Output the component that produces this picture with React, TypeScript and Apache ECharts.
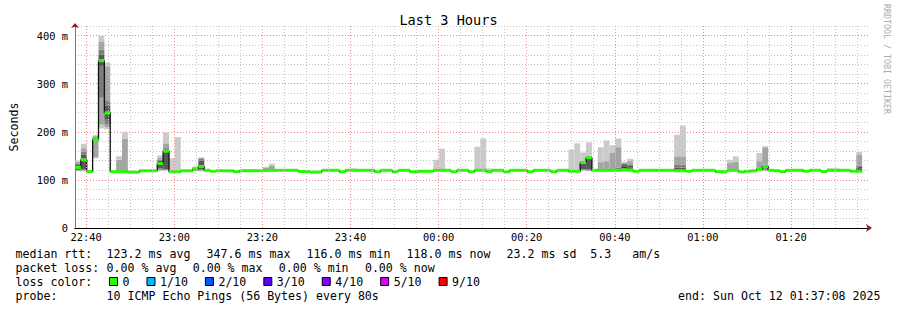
import React, { useEffect, useRef } from "react";
import * as echarts from "echarts";

const FONT = '"DejaVu Sans Mono", monospace';
const titleText = "Last 3 Hours";
const yAxisName = "Seconds";
const watermark = "RRDTOOL / TOBI OETIKER";
// clock time at the left edge of the plot; the first 80 s step starts there
const axisStartClock = [22, 37, 28];
const spanSeconds = 3 * 3600;
const stepSeconds = 80;
const yMax = 420;
const yMinorStep = 20;
const yMajorStep = 100;
const xMinorMinutes = 5;
const xMajorMinutes = 20;

// median RTT (ms) per 80 s step
const medians = [
  126, 142, 117.5, 184, 348, 239, 117, 117, 117, 116,
  116, 119, 119, 119, 134, 160, 117, 117, 119, 119,
  122, 128, 120, 118, 119, 119, 119, 117, 119, 119,
  119, 119, 120, 120, 120, 120, 120, 120, 117.5, 117.5,
  116, 116, 120, 120, 120, 117, 120, 120, 120, 120,
  120, 117, 120, 120, 117, 120, 120, 117, 118, 118,
  118, 120, 120, 120, 117, 120, 120, 117, 120, 120,
  117, 120, 120, 117, 120, 120, 120, 117, 120, 120,
  120, 117, 120, 120, 118, 118, 136, 146, 120, 120,
  120, 120, 120, 121, 121, 118, 120, 120, 120, 120,
  120, 120, 119, 119, 118, 120, 120, 120, 120, 117,
  117, 120, 120, 116.5, 118, 119, 122, 128, 120, 119,
  117, 120, 120, 120, 118, 120, 120, 117.5, 120, 120,
  120, 120, 118, 118,
];

// sorted 10 pings (ms) for the steps whose smoke is visible: [step index, pings]
const smokeSamples: [number, number[]][] = [
  [0, [118, 119, 120, 121, 123, 129, 131, 134, 138, 140]],
  [1, [118, 119, 120, 122, 139, 145, 152, 159, 166, 175]],
  [3, [145, 147, 180, 181, 182, 186, 188, 190, 192, 194]],
  [4, [207, 215, 271, 337, 346, 350, 360, 371, 388, 399]],
  [5, [205, 210, 215, 225, 236, 242, 255, 264, 336, 344]],
  [7, [116, 116, 117, 117, 117, 117, 118, 118, 142, 149]],
  [8, [116, 116, 117, 117, 117, 117, 118, 118, 186, 200]],
  [14, [119, 120, 121, 124, 132, 137, 140, 142, 146, 151]],
  [15, [119, 120, 121, 122, 157, 163, 164, 166, 176, 199]],
  [16, [116, 116, 117, 117, 117, 117, 117, 118, 118, 145]],
  [17, [116, 116, 117, 117, 117, 117, 117, 118, 118, 189]],
  [20, [118, 119, 119, 120, 121, 123, 125, 126, 127, 128]],
  [21, [118, 119, 120, 122, 126, 131, 140, 144, 146, 147]],
  [22, [118, 118, 119, 119, 119, 120, 120, 121, 122, 123]],
  [29, [118, 118, 118, 119, 119, 119, 119, 120, 120, 122]],
  [30, [118, 118, 118, 119, 119, 119, 119, 120, 120, 122]],
  [32, [118, 118, 119, 119, 120, 121, 121, 122, 126, 127]],
  [33, [118, 118, 119, 119, 120, 120, 121, 121, 130, 134]],
  [47, [118, 118, 119, 119, 120, 120, 120, 121, 121, 124]],
  [57, [114, 115, 116, 116, 117, 117, 118, 118, 119, 119]],
  [61, [118, 118, 119, 119, 120, 120, 120, 121, 121, 142]],
  [62, [118, 118, 119, 119, 120, 120, 120, 121, 121, 165]],
  [68, [118, 118, 119, 119, 120, 120, 120, 121, 121, 169]],
  [69, [118, 118, 119, 119, 120, 120, 120, 121, 121, 186]],
  [70, [117, 117, 117, 117, 117, 118, 118, 119, 120, 124]],
  [84, [117, 117, 117, 118, 118, 118, 118, 119, 119, 163]],
  [85, [117, 117, 117, 118, 118, 118, 118, 119, 119, 176]],
  [86, [119, 120, 121, 122, 134, 138, 138, 138.5, 139, 157]],
  [87, [118, 119, 120, 122, 144, 148, 148.5, 149, 150, 178]],
  [89, [118, 118, 119, 119, 120, 120, 120, 121, 137, 168]],
  [90, [118, 118, 119, 119, 120, 120, 120, 121, 139, 182]],
  [91, [118, 118, 119, 119, 120, 120, 120, 121, 156, 172]],
  [92, [118, 118, 119, 119, 120, 120, 121, 125, 168, 186]],
  [93, [118, 119, 120, 121, 124, 128, 131, 133, 136, 138]],
  [94, [117, 118, 119, 120, 121, 125, 129, 131, 139, 144]],
  [99, [118, 118, 119, 119, 120, 120, 120, 121, 121, 122]],
  [102, [118, 118, 119, 119, 120, 121, 125, 131, 149, 194]],
  [103, [118, 118, 119, 119, 120, 122, 126, 132, 149, 213]],
  [111, [118, 118, 119, 119, 120, 120, 121, 121, 135, 142]],
  [112, [118, 118, 119, 119, 120, 120, 121, 121, 138, 149]],
  [116, [118, 119, 120, 121, 122, 123, 125, 126, 139, 156]],
  [117, [118, 120, 121, 124, 127, 130, 131, 132, 168, 170]],
  [121, [118, 118, 119, 119, 120, 120, 120, 121, 121, 122]],
  [123, [118, 118, 119, 119, 120, 120, 120, 121, 121, 122]],
  [128, [118, 118, 119, 119, 120, 120, 120, 121, 121, 124]],
  [129, [118, 118, 119, 119, 120, 120, 120, 121, 121, 124]],
  [130, [118, 118, 119, 119, 120, 120, 120, 121, 121, 123]],
  [133, [118, 119, 119, 120, 121, 123, 127, 130, 153, 158]],
];

const lossLevels = ["0", "1/10", "2/10", "3/10", "4/10", "5/10", "9/10"];
const lossColors = ["#26ff00", "#00b8ff", "#0059ff", "#5e00ff", "#7e00ff", "#dd00ff", "#ff0000"];
const smokeShades = ["#cacaca", "#a4a4a4", "#7e7e7e", "#585858", "#323232", "#585858", "#7e7e7e", "#a4a4a4", "#cacaca"];

const rttLabel = "median rtt:";
const rttStats = ["123.2 ms avg", "347.6 ms max", "116.0 ms min", "118.0 ms now", "23.2 ms sd  5.3   am/s"];
const lossLabel = "packet loss:";
const lossStats = ["0.00 % avg", "0.00 % max", "0.00 % min", "0.00 % now"];
const colorLabel = "loss color:";
const probeLabel = "probe:";
const probeText = "10 ICMP Echo Pings (56 Bytes) every 80s";
const endText = "end: Sun Oct 12 01:37:08 2025";

const pad = (n: number) => (n < 10 ? "0" + n : "" + n);
const gcd = (a: number, b: number): number => (b ? gcd(b, a % b) : a);

export default function App() {
  const ref = useRef<HTMLDivElement>(null);
  useEffect(() => {
    document.body.style.margin = "0";
    const chart = echarts.init(ref.current!, null, { renderer: "svg" });
    const startSec = axisStartClock[0] * 3600 + axisStartClock[1] * 60 + axisStartClock[2];
    const minor = xMinorMinutes * 60;
    const major = xMajorMinutes * 60;
    const firstMinor = Math.ceil(startSec / minor) * minor - startSec;
    const firstMajor = Math.ceil(startSec / major) * major - startSec;
    const xInterval = gcd(gcd(firstMinor, minor), firstMajor);
    const fmtClock = (rel: number) => {
      const t = (startSec + rel) % 86400;
      return pad(Math.floor(t / 3600)) + ":" + pad(Math.floor((t % 3600) / 60));
    };

    const gridMarks: any[] = [];
    for (let v = firstMinor; v <= spanSeconds; v += minor) {
      const isMajor = (v - firstMajor) % major === 0;
      gridMarks.push({
        xAxis: v,
        lineStyle: { color: isMajor ? "#f08a8a" : "#c4c4c4", type: [1, 2], width: 1 },
      });
    }

    const minorColors = [] as string[];
    for (let i = 0; i < yMajorStep / yMinorStep; i++) minorColors.push(i === 0 ? "#f08a8a" : "#c4c4c4");

    const smokeData = smokeSamples.map(([k, p]) => [k * stepSeconds, (k + 1) * stepSeconds, ...p]);
    const medianSteps = medians.map((m, k) => [k * stepSeconds, (k + 1) * stepSeconds, m]);
    const medianLine = medians.map((m, k) => [k * stepSeconds, m]);
    medianLine.push([medians.length * stepSeconds, medians[medians.length - 1]]);

    const lossSeries = lossLevels.map((name, i) => ({
      type: "custom",
      name,
      z: 3,
      silent: true,
      itemStyle: { color: lossColors[i] },
      encode: { x: [0, 1], y: 2 },
      data: i === 0 ? medianSteps : [],
      renderItem: (params: any, api: any) => {
        const a = api.coord([api.value(0), api.value(2)]);
        const b = api.coord([api.value(1), api.value(2)]);
        return {
          type: "rect",
          shape: { x: a[0], y: a[1] - 1.5, width: b[0] - a[0], height: 3 },
          style: { fill: lossColors[i] },
        };
      },
    }));

    const textLine = (x: number, y: number, text: string, extra: any = {}) => ({
      type: "text",
      x,
      y,
      silent: true,
      style: {
        text,
        fill: "#000",
        font: `11.6px ${FONT}`,
        textVerticalAlign: "middle",
        verticalAlign: "middle",
        ...extra,
      },
    });

    const rowY = [254.3, 268.3, 282.3, 296.3];
    const graphics: any[] = [
      textLine(15.5, rowY[0], rttLabel),
      ...rttStats.map((s, i) => textLine(106.6 + i * 100, rowY[0], s)),
      textLine(15.5, rowY[1], lossLabel),
      ...lossStats.map((s, i) => textLine(106.6 + i * 86.1, rowY[1], s)),
      textLine(15.5, rowY[2], colorLabel),
      textLine(15.5, rowY[3], probeLabel),
      textLine(106.6, rowY[3], probeText),
      textLine(880.5, rowY[3], endText, { textAlign: "right", align: "right" }),
      {
        type: "text",
        x: 887,
        y: 59,
        rotation: -Math.PI / 2,
        silent: true,
        style: {
          text: watermark,
          fill: "#ababab",
          font: `8.3px ${FONT}`,
          textAlign: "center",
          align: "center",
          textVerticalAlign: "middle",
          verticalAlign: "middle",
        },
      },
    ];

    const option: any = {
      animation: false,
      backgroundColor: "#ffffff",
      title: {
        text: titleText,
        left: "center",
        top: 8,
        textStyle: { fontFamily: FONT, fontSize: 13.6, fontWeight: "normal", color: "#000" },
      },
      grid: { left: 67, right: 29, top: 26, bottom: 82, containLabel: false },
      legend: {
        data: lossLevels,
        left: 109,
        top: 275.5,
        padding: 0,
        itemWidth: 8,
        itemHeight: 8,
        itemGap: 17,
        icon: "rect",
        selectedMode: false,
        itemStyle: { borderColor: "#000", borderWidth: 1 },
        textStyle: { fontFamily: FONT, fontSize: 11.6, color: "#000" },
      },
      xAxis: [
        {
          type: "value",
          min: 0,
          max: spanSeconds,
          interval: xInterval,
          position: "bottom",
          axisLine: {
            show: true,
            lineStyle: { color: "#8b1a1a", width: 1 },
            symbol: ["none", "arrow"],
            symbolSize: [6, 6],
            symbolOffset: [0, 4],
          },
          axisTick: { show: false },
          axisLabel: { show: false },
          splitLine: { show: false },
        },
        {
          type: "value",
          min: 0,
          max: spanSeconds,
          interval: xInterval,
          position: "bottom",
          axisLine: { show: true, lineStyle: { color: "#000", width: 1 } },
          axisTick: { show: false },
          splitLine: { show: false },
          axisLabel: {
            margin: 4,
            fontFamily: FONT,
            fontSize: 10.4,
            color: "#000",
            formatter: (v: number) => {
              const r = Math.round(v);
              return r >= firstMajor && (r - firstMajor) % major === 0 ? fmtClock(r) : "";
            },
          },
        },
      ],
      yAxis: [
        {
          type: "value",
          min: 0,
          max: yMax,
          interval: yMinorStep,
          position: "left",
          axisLine: {
            show: true,
            lineStyle: { color: "#8b1a1a", width: 1 },
            symbol: ["none", "arrow"],
            symbolSize: [6, 5],
            symbolOffset: [0, 3],
          },
          axisTick: { show: false },
          axisLabel: { show: false },
          splitLine: { show: false },
        },
        {
          type: "value",
          min: 0,
          max: yMax,
          interval: yMinorStep,
          position: "left",
          name: yAxisName,
          nameLocation: "middle",
          nameRotate: 90,
          nameGap: 55,
          nameTextStyle: { fontFamily: FONT, fontSize: 11.6, color: "#000" },
          axisLine: { show: true, lineStyle: { color: "#777", width: 1 } },
          axisTick: { show: false },
          axisLabel: {
            margin: 7,
            fontFamily: FONT,
            fontSize: 10.4,
            color: "#000",
            formatter: (v: number) => (v % yMajorStep === 0 ? (v === 0 ? "0" : `${v} m`) : ""),
          },
          splitLine: { show: true, lineStyle: { color: minorColors, type: [1, 2], width: 1 } },
        },
      ],
      graphic: graphics,
      series: [
        {
          type: "line",
          name: "grid",
          data: [],
          z: 0,
          silent: true,
          markLine: {
            silent: true,
            symbol: ["none", "none"],
            label: { show: false },
            animation: false,
            data: gridMarks,
          },
        },
        {
          type: "custom",
          name: "smoke",
          z: 1,
          silent: true,
          encode: { x: [0, 1], y: [2, 3, 4, 5, 6, 7, 8, 9, 10, 11] },
          data: smokeData,
          renderItem: (params: any, api: any) => {
            const x0 = api.coord([api.value(0), 0])[0];
            const x1 = api.coord([api.value(1), 0])[0];
            const children: any[] = [];
            for (let j = 0; j < 9; j++) {
              const lo = api.value(2 + j);
              const hi = api.value(3 + j);
              if (hi <= lo) continue;
              const yl = api.coord([0, lo])[1];
              const yh = api.coord([0, hi])[1];
              children.push({
                type: "rect",
                shape: { x: x0, y: yh, width: x1 - x0, height: yl - yh },
                style: { fill: smokeShades[j] },
              });
            }
            return { type: "group", children };
          },
        },
        {
          type: "line",
          name: "median",
          z: 2,
          silent: true,
          step: "end",
          symbol: "none",
          data: medianLine,
          lineStyle: { color: "#111", width: 1.3 },
        },
        ...lossSeries,
      ],
    };
    chart.setOption(option);
    return () => chart.dispose();
  }, []);
  return <div ref={ref} style={{ width: 897, height: 310 }} />;
}
